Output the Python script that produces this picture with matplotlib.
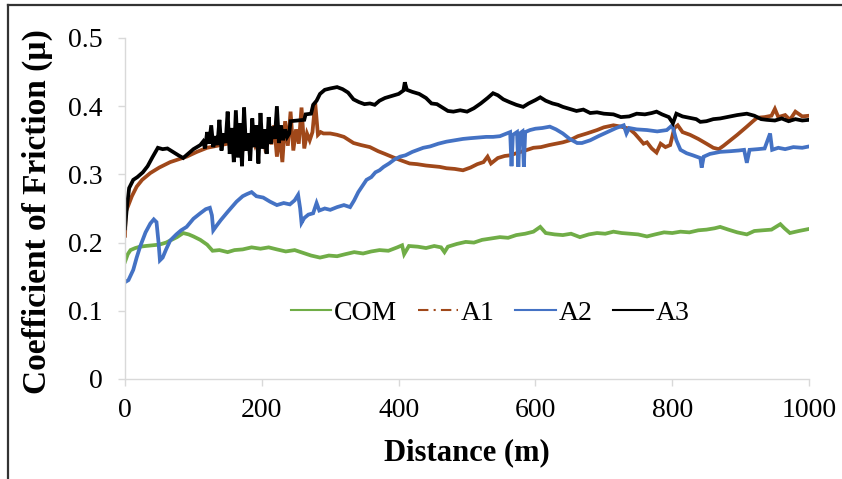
import matplotlib
matplotlib.use('Agg')
import matplotlib.pyplot as plt
from matplotlib.lines import Line2D

# =========================
# DATA
# =========================
com_x = [0, 4, 8, 15, 22, 30, 40, 50, 60, 68, 76, 85, 93, 100, 110, 120, 128, 138, 150, 160,
         172, 185, 198, 210, 222, 235, 248, 260, 272, 285, 298, 310, 322, 335, 348, 360, 372, 385,
         398, 405, 408, 415, 428, 440, 452, 462, 467, 472, 485, 498, 510, 522, 535, 548, 560, 572,
         585, 597, 607, 615, 628, 640, 652, 665, 678, 690, 702, 714, 726, 738, 750, 763, 775, 788,
         800, 812, 825, 838, 850, 862, 870, 882, 895, 909, 920, 932, 945, 958, 964, 972, 985, 1000]
com_y = [0.172, 0.183, 0.189, 0.192, 0.194, 0.195, 0.196, 0.197, 0.200, 0.204, 0.208, 0.214, 0.212,
         0.209, 0.204, 0.197, 0.188, 0.189, 0.186, 0.189, 0.190, 0.193, 0.191, 0.193, 0.190, 0.187,
         0.189, 0.185, 0.181, 0.178, 0.181, 0.180, 0.183, 0.186, 0.184, 0.187, 0.189, 0.188, 0.193,
         0.196, 0.183, 0.195, 0.194, 0.192, 0.195, 0.193, 0.186, 0.194, 0.198, 0.201, 0.200, 0.204,
         0.206, 0.208, 0.207, 0.211, 0.213, 0.216, 0.223, 0.214, 0.212, 0.211, 0.213, 0.208, 0.212,
         0.214, 0.213, 0.216, 0.214, 0.213, 0.212, 0.209, 0.212, 0.215, 0.214, 0.216, 0.215, 0.218,
         0.219, 0.221, 0.223, 0.219, 0.215, 0.212, 0.217, 0.218, 0.219, 0.227, 0.221, 0.214, 0.217,
         0.220]

a1_x = [0, 1, 5, 10, 17, 25, 37, 50, 66, 78, 90, 105, 120, 135, 150, 154, 158, 162, 166, 170, 174,
        178, 182, 186, 190, 194, 198, 202, 206, 210, 214, 218, 222, 226, 230, 234, 238, 242, 246, 250,
        254, 258, 262, 266, 270, 274, 278, 282, 286, 290, 300, 310, 320, 334, 345, 358, 370, 380, 392,
        405, 416, 427, 440, 450, 460, 470, 482, 494, 505, 515, 524, 530, 535, 545, 555, 563, 575, 585,
        597, 608, 620, 630, 640, 650, 662, 675, 690, 700, 714, 725, 737, 745, 752, 758, 763, 770, 777,
        783, 790, 797, 803, 808, 815, 826, 838, 850, 860, 868, 875, 885, 895, 909, 918, 924, 935, 945,
        950, 955, 965, 972, 980, 990, 1000]
a1_y = [0.210, 0.245, 0.255, 0.268, 0.282, 0.292, 0.302, 0.310, 0.318, 0.322, 0.326, 0.333, 0.339,
        0.342, 0.345, 0.352, 0.338, 0.349, 0.343, 0.356, 0.340, 0.350, 0.346, 0.353, 0.342, 0.351,
        0.347, 0.356, 0.332, 0.364, 0.344, 0.372, 0.326, 0.358, 0.318, 0.378, 0.342, 0.392, 0.335,
        0.366, 0.345, 0.398, 0.338, 0.360, 0.350, 0.362, 0.405, 0.358, 0.362, 0.360, 0.360, 0.358,
        0.355, 0.346, 0.343, 0.340, 0.334, 0.330, 0.325, 0.320, 0.316, 0.315, 0.313, 0.312, 0.311,
        0.309, 0.308, 0.306, 0.310, 0.315, 0.318, 0.326, 0.316, 0.324, 0.327, 0.328, 0.332, 0.335,
        0.339, 0.340, 0.343, 0.345, 0.347, 0.350, 0.356, 0.360, 0.365, 0.369, 0.372, 0.370, 0.367,
        0.360, 0.352, 0.345, 0.347, 0.338, 0.332, 0.345, 0.340, 0.343, 0.368, 0.372, 0.362, 0.358,
        0.352, 0.345, 0.339, 0.337, 0.342, 0.350, 0.358, 0.370, 0.378, 0.383, 0.384, 0.386, 0.396,
        0.384, 0.387, 0.380, 0.392, 0.385, 0.386]

a2_x = [0, 5, 12, 17, 22, 30, 37, 42, 46, 49, 51, 55, 60, 66, 75, 82, 90, 100, 110, 118, 124, 127,
        129, 134, 140, 150, 163, 172, 178, 185, 192, 202, 212, 222, 232, 241, 248, 253, 256, 258, 262,
        268, 275, 280, 284, 292, 300, 310, 320, 329, 335, 341, 347, 353, 360, 366, 372, 378, 386, 394,
        402, 410, 420, 428, 436, 446, 458, 470, 482, 494, 504, 516, 528, 538, 548, 558, 563, 565, 567,
        573, 575, 577, 581, 583, 585, 592, 600, 610, 621, 630, 640, 650, 661, 668, 680, 692, 705, 718,
        729, 733, 737, 748, 763, 778, 792, 800, 806, 812, 821, 830, 841, 843, 846, 855, 870, 885, 897,
        905, 909, 913, 925, 935, 943, 946, 955, 965, 977, 990, 1000]
a2_y = [0.142, 0.145, 0.160, 0.178, 0.194, 0.215, 0.228, 0.234, 0.230, 0.200, 0.174, 0.178, 0.190,
        0.203, 0.212, 0.218, 0.223, 0.235, 0.243, 0.249, 0.251, 0.240, 0.218, 0.225, 0.233, 0.245,
        0.260, 0.268, 0.271, 0.274, 0.268, 0.266, 0.260, 0.255, 0.258, 0.256, 0.262, 0.270, 0.250,
        0.229, 0.236, 0.241, 0.243, 0.258, 0.247, 0.250, 0.248, 0.252, 0.255, 0.252, 0.262, 0.274,
        0.283, 0.292, 0.296, 0.303, 0.306, 0.311, 0.316, 0.322, 0.326, 0.328, 0.333, 0.336, 0.339,
        0.341, 0.345, 0.348, 0.350, 0.352, 0.353, 0.354, 0.355, 0.355, 0.356, 0.360, 0.362, 0.312,
        0.358, 0.362, 0.311, 0.360, 0.363, 0.311, 0.362, 0.365, 0.367, 0.368, 0.370, 0.366, 0.360,
        0.352, 0.346, 0.346, 0.350, 0.356, 0.362, 0.368, 0.372, 0.360, 0.368, 0.366, 0.365, 0.363,
        0.365, 0.372, 0.350, 0.336, 0.331, 0.328, 0.324, 0.310, 0.326, 0.330, 0.333, 0.334, 0.335,
        0.336, 0.317, 0.336, 0.337, 0.338, 0.360, 0.336, 0.339, 0.337, 0.340, 0.339, 0.341]

a3_x = [0, 3, 6, 12, 18, 26, 33, 40, 48, 55, 62, 70, 78, 85, 92, 100, 110, 114, 117, 120, 123, 126,
        129, 132, 135, 138, 141, 144, 147, 150, 153, 156, 159, 162, 165, 168, 171, 174, 177, 180, 183,
        186, 189, 192, 195, 198, 201, 204, 207, 210, 213, 216, 219, 222, 225, 228, 231, 234, 237, 240,
        242, 262, 264, 272, 275, 280, 285, 292, 300, 310, 318, 326, 334, 342, 350, 358, 365, 372, 380,
        390, 400, 407, 409, 412, 420, 430, 440, 448, 456, 464, 472, 480, 490, 500, 510, 520, 530, 538,
        545, 553, 562, 572, 582, 590, 600, 607, 615, 625, 633, 640, 650, 660, 670, 680, 690, 700, 714,
        725, 737, 748, 760, 770, 777, 785, 795, 801, 806, 815, 825, 835, 841, 850, 860, 870, 885, 895,
        909, 920, 930, 938, 950, 960, 970, 980, 990, 1000]
a3_y = [0.221, 0.255, 0.280, 0.292, 0.296, 0.303, 0.312, 0.325, 0.339, 0.337, 0.338, 0.333, 0.328,
        0.324, 0.330, 0.337, 0.343, 0.348, 0.338, 0.362, 0.345, 0.372, 0.340, 0.356, 0.343, 0.380,
        0.335, 0.360, 0.346, 0.392, 0.330, 0.368, 0.318, 0.394, 0.325, 0.375, 0.312, 0.398, 0.335,
        0.360, 0.320, 0.382, 0.340, 0.372, 0.316, 0.390, 0.338, 0.366, 0.330, 0.384, 0.345, 0.370,
        0.352, 0.400, 0.346, 0.372, 0.350, 0.366, 0.355, 0.360, 0.378, 0.380, 0.388, 0.389, 0.402,
        0.408, 0.418, 0.424, 0.426, 0.428, 0.425, 0.420, 0.410, 0.406, 0.403, 0.404, 0.402, 0.408,
        0.412, 0.415, 0.418, 0.423, 0.435, 0.424, 0.421, 0.418, 0.412, 0.404, 0.403, 0.398, 0.393,
        0.392, 0.394, 0.392, 0.397, 0.404, 0.412, 0.419, 0.416, 0.410, 0.406, 0.402, 0.399, 0.404,
        0.409, 0.413, 0.408, 0.404, 0.402, 0.399, 0.396, 0.393, 0.395, 0.390, 0.391, 0.389, 0.388,
        0.384, 0.385, 0.389, 0.388, 0.390, 0.392, 0.388, 0.384, 0.375, 0.389, 0.385, 0.383, 0.381,
        0.377, 0.378, 0.381, 0.382, 0.385, 0.387, 0.389, 0.386, 0.381, 0.380, 0.379, 0.382, 0.378,
        0.381, 0.379, 0.380]

labels = ['COM', 'A1', 'A2', 'A3']
colors = ['#70ad47', '#a0481a', '#4472c4', '#000000']
x_ticks = [0, 200, 400, 600, 800, 1000]
y_ticks = [0, 0.1, 0.2, 0.3, 0.4, 0.5]

# =========================
# PLOT
# =========================
plt.rcParams['font.family'] = ['Liberation Serif', 'DejaVu Serif']

fig = plt.figure(figsize=(8.42, 4.79), dpi=100)
ax = fig.add_axes([0.1485, 0.2088, 0.8124, 0.7119])

series = [(com_x, com_y), (a1_x, a1_y), (a2_x, a2_y), (a3_x, a3_y)]
for (xs, ys), c in zip(series, colors):
    ax.plot(xs, ys, color=c, lw=2.7, solid_joinstyle='miter')

ax.set_xlim(0, 1000)
ax.set_ylim(0, 0.5)
ax.set_xticks(x_ticks)
ax.set_yticks(y_ticks)
ax.set_xticklabels([str(v) for v in x_ticks])
ax.set_yticklabels(['0', '0.1', '0.2', '0.3', '0.4', '0.5'])

for s in ['top', 'right']:
    ax.spines[s].set_visible(False)
for s in ['left', 'bottom']:
    ax.spines[s].set_color('#d9d9d9')
    ax.spines[s].set_linewidth(1.0)

ax.tick_params(axis='both', colors='#d9d9d9', labelcolor='black', labelsize=20,
               length=5, width=1.0, direction='out')
ax.tick_params(axis='x', pad=9)
ax.tick_params(axis='y', pad=11)

ax.set_xlabel('Distance (m)', fontsize=22, fontweight='bold')
ax.xaxis.set_label_coords(0.5, -0.175)
ax.set_ylabel('Coefficient of Friction (µ)', fontsize=24, fontweight='bold', va='center')
ax.yaxis.set_label_coords(-0.128, 0.49)

handles = [
    Line2D([], [], color=colors[0], lw=1.5),
    Line2D([], [], color=colors[1], lw=1.5, linestyle=(0, (5, 2.5, 1, 2.5))),
    Line2D([], [], color=colors[2], lw=1.5),
    Line2D([], [], color=colors[3], lw=1.5),
]
ax.legend(handles, labels, ncol=4, loc='center', bbox_to_anchor=(0.534, 0.194),
          frameon=False, fontsize=20, handlelength=1.45, handletextpad=0.1,
          columnspacing=0.75, borderaxespad=0)

# figure border (top and left edges of the screenshot frame)
fig.add_artist(Line2D([8 / 842, 1.0], [1 - 5 / 479, 1 - 5 / 479], color='#333333', lw=1.6,
                      transform=fig.transFigure))
fig.add_artist(Line2D([8 / 842, 8 / 842], [0, 1 - 5 / 479], color='#333333', lw=1.6,
                      transform=fig.transFigure))

fig.savefig('out.png', dpi=100)
plt.close(fig)
